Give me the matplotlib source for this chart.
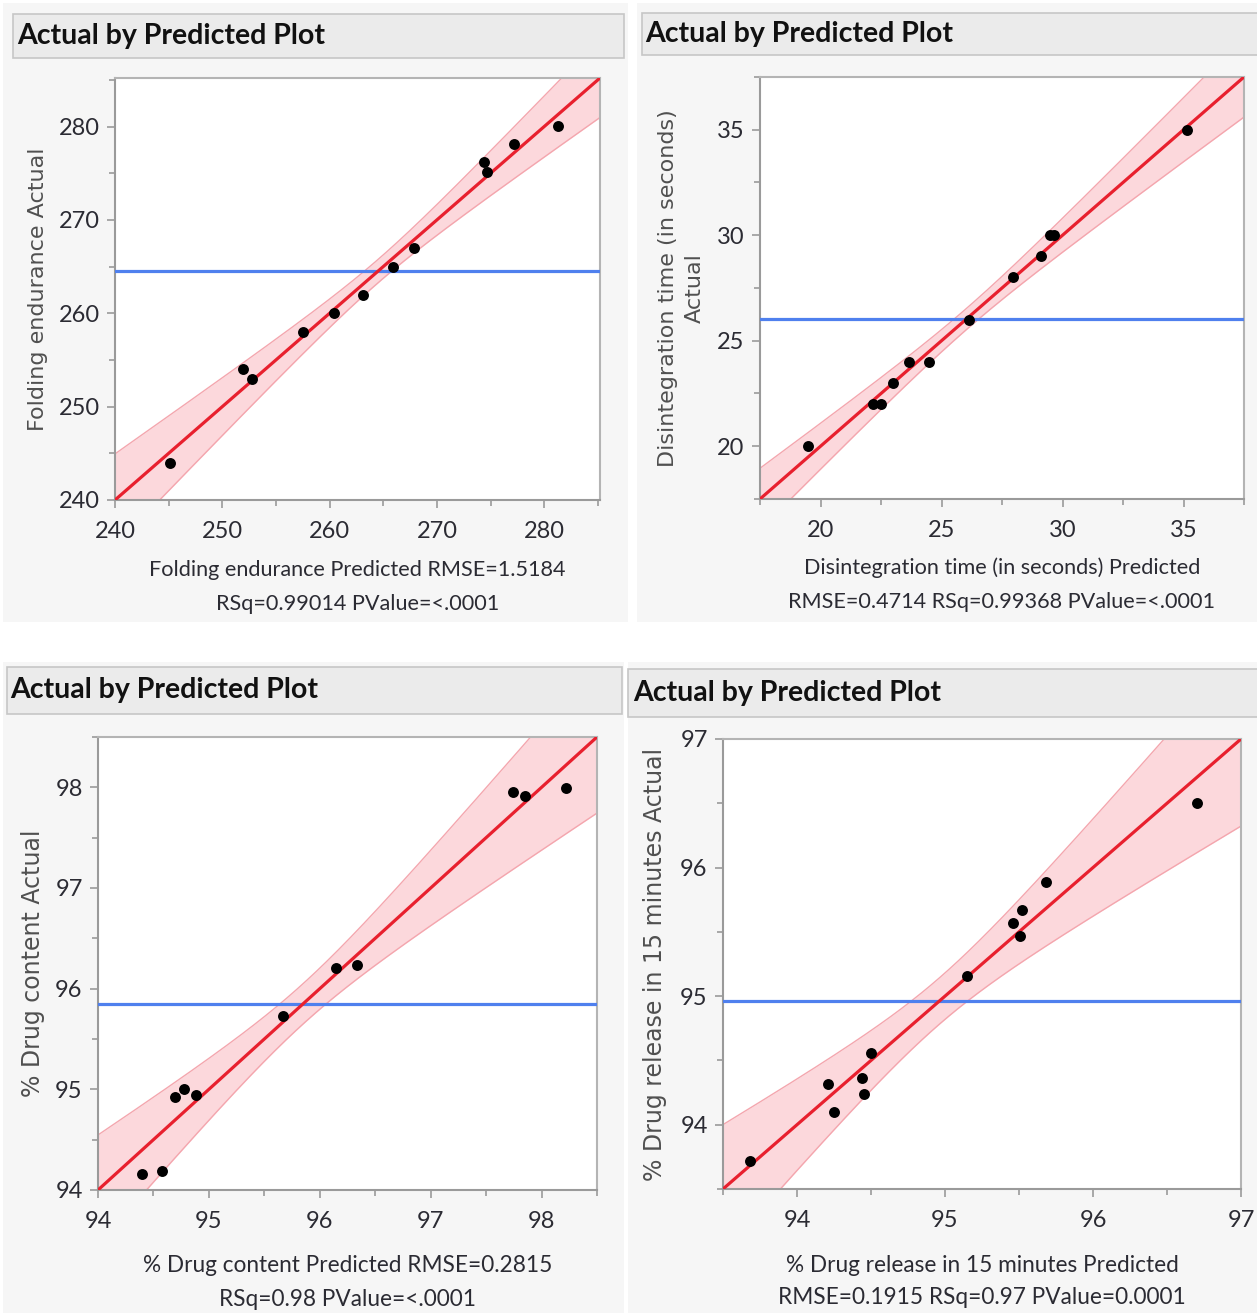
import numpy as np
import matplotlib
matplotlib.use("Agg")
import matplotlib.pyplot as plt
from matplotlib.patches import Rectangle
from matplotlib.ticker import MultipleLocator

W, H = 1257, 1313

title_text = "Actual by Predicted Plot"

# ---- Panel 1: Folding endurance ----
fe_pred = [245.1, 251.9, 252.8, 257.5, 260.4, 263.1, 265.9, 267.9, 274.4, 274.7, 277.2, 281.3]
fe_act = [244.0, 254.0, 253.0, 258.0, 260.0, 262.0, 265.0, 267.0, 276.2, 275.1, 278.1, 280.1]
fe_mean = 264.5
fe_xlabel = ["Folding endurance Predicted RMSE=1.5184", "RSq=0.99014 PValue=<.0001"]
fe_ylabel = ["Folding endurance Actual"]

# ---- Panel 2: Disintegration time ----
dt_pred = [19.5, 22.15, 22.5, 23.0, 23.65, 24.47, 26.15, 27.97, 29.1, 29.5, 29.65, 35.15]
dt_act = [20.0, 22.0, 22.0, 23.0, 24.0, 24.0, 26.0, 28.0, 29.0, 30.0, 30.0, 35.0]
dt_mean = 26.05
dt_xlabel = ["Disintegration time (in seconds) Predicted", "RMSE=0.4714 RSq=0.99368 PValue=<.0001"]
dt_ylabel = ["Disintegration time (in seconds)", "Actual"]

# ---- Panel 3: % Drug content ----
dc_pred = [94.4, 94.58, 94.69, 94.78, 94.88, 95.67, 96.15, 96.34, 97.74, 97.85, 98.22]
dc_act = [94.16, 94.19, 94.92, 95.0, 94.94, 95.73, 96.21, 96.24, 97.95, 97.91, 97.99]
dc_mean = 95.85
dc_xlabel = ["% Drug content Predicted RMSE=0.2815", "RSq=0.98 PValue=<.0001"]
dc_ylabel = ["% Drug content Actual"]

# ---- Panel 4: % Drug release in 15 minutes ----
dr_pred = [93.68, 94.21, 94.25, 94.44, 94.45, 94.5, 95.15, 95.46, 95.51, 95.52, 95.68, 96.7]
dr_act = [93.72, 94.32, 94.1, 94.36, 94.24, 94.56, 95.16, 95.57, 95.47, 95.67, 95.89, 96.5]
dr_mean = 94.96
dr_xlabel = ["% Drug release in 15 minutes Predicted", "RMSE=0.1915 RSq=0.97 PValue=0.0001"]
dr_ylabel = ["% Drug release in 15 minutes Actual"]

# confidence band (half width at mean, spread per unit distance)
band_half_center = [1.25, 0.5, 0.2, 0.18]
band_spread = [0.195, 0.16, 0.275, 0.32]

# axis limits and ticks
xlims = [(240, 285.2), (17.5, 37.5), (94, 98.5), (93.5, 97)]
ylims = [(240, 285.2), (17.5, 37.5), (94, 98.5), (93.5, 97)]
x_ticks = [[240, 250, 260, 270, 280], [20, 25, 30, 35], [94, 95, 96, 97, 98], [94, 95, 96, 97]]
y_ticks = [[240, 250, 260, 270, 280], [20, 25, 30, 35], [94, 95, 96, 97, 98], [94, 95, 96, 97]]
minor_steps = [5, 2.5, 0.5, 0.5]

# ---- layout (pixels) ----
panels = [
    dict(pred=fe_pred, act=fe_act, mean=fe_mean, xl=fe_xlabel, yl=fe_ylabel,
         bg=(3, 3, 628, 622), bar=(13, 14, 624, 58), title=(17, 36),
         ax=(115, 78, 600, 500), xlab_y=(570, 604), ylab_x=(38,), ysize=16, xsize=15.6),
    dict(pred=dt_pred, act=dt_act, mean=dt_mean, xl=dt_xlabel, yl=dt_ylabel,
         bg=(637, 3, 1257, 622), bar=(642, 13, 1262, 55), title=(645, 34),
         ax=(760, 77, 1244, 499), xlab_y=(568, 602), ylab_x=(668, 695), ysize=16, xsize=15.6),
    dict(pred=dc_pred, act=dc_act, mean=dc_mean, xl=dc_xlabel, yl=dc_ylabel,
         bg=(3, 662, 624, 1313), bar=(7, 667, 622, 714), title=(10, 690),
         ax=(98, 737, 597, 1190), xlab_y=(1265, 1300), ylab_x=(33,), ysize=17, xsize=16.3),
    dict(pred=dr_pred, act=dr_act, mean=dr_mean, xl=dr_xlabel, yl=dr_ylabel,
         bg=(628, 662, 1257, 1313), bar=(628, 669, 1262, 717), title=(633, 693),
         ax=(723, 739, 1241, 1189), xlab_y=(1265, 1298), ylab_x=(655,), ysize=17, xsize=16.3),
]

fig = plt.figure(figsize=(W / 100, H / 100), dpi=100)
fig.patch.set_facecolor("white")

def fx(x):
    return x / W

def fy(y):
    return 1 - y / H

TEXT = "#2b2b33"
LABEL = "#505050"
tick_font = "Lato"

for i, p in enumerate(panels):
    x0, y0, x1, y1 = p["bg"]
    fig.patches.append(Rectangle((fx(x0), fy(y1)), (x1 - x0) / W, (y1 - y0) / H,
                                 transform=fig.transFigure, facecolor="#f6f6f6",
                                 edgecolor="none", zorder=-3))
    x0, y0, x1, y1 = p["bar"]
    fig.patches.append(Rectangle((fx(x0), fy(y1)), (x1 - x0) / W, (y1 - y0) / H,
                                 transform=fig.transFigure, facecolor="#ebebeb",
                                 edgecolor="#c6c6c6", linewidth=1.2, zorder=-2))
    tx, ty = p["title"]
    fig.text(fx(tx), fy(ty), title_text, family="Lato", weight="bold",
             fontsize=20.5, color="#111111", ha="left", va="center")

    ax0, ay0, ax1, ay1 = p["ax"]
    ax = fig.add_axes([fx(ax0), fy(ay1), (ax1 - ax0) / W, (ay1 - ay0) / H])
    ax.set_zorder(2)
    ax.set_facecolor("white")
    ax.set_xlim(*xlims[i])
    ax.set_ylim(*ylims[i])
    ax.set_xticks(x_ticks[i])
    ax.set_yticks(y_ticks[i])
    ax.xaxis.set_minor_locator(MultipleLocator(minor_steps[i]))
    ax.yaxis.set_minor_locator(MultipleLocator(minor_steps[i]))
    ax.tick_params(which="major", length=6, width=1.2, color="#9a9a9a",
                   labelsize=17, labelcolor=TEXT)
    ax.tick_params(axis="x", which="major", pad=9)
    ax.tick_params(axis="y", which="major", pad=5)
    ax.tick_params(which="minor", length=4, width=1.2, color="#9a9a9a")
    for lab in ax.get_xticklabels() + ax.get_yticklabels():
        lab.set_family(tick_font)
    for side in ["left", "bottom"]:
        ax.spines[side].set_color("#9a9a9a")
        ax.spines[side].set_linewidth(1.5)
    for side in ["top", "right"]:
        ax.spines[side].set_color("#b4b4b4")
        ax.spines[side].set_linewidth(1.5)

    xs = np.linspace(xlims[i][0], xlims[i][1], 400)
    m = p["mean"]
    hw = np.sqrt(band_half_center[i] ** 2 + (band_spread[i] * (xs - m)) ** 2)
    ax.fill_between(xs, xs - hw, xs + hw, color="#fcd8dc", linewidth=0, zorder=1)
    ax.plot(xs, xs + hw, color="#f4a6ae", linewidth=1.0, zorder=2)
    ax.plot(xs, xs - hw, color="#f4a6ae", linewidth=1.0, zorder=2)
    ax.axhline(m, color="#4f80ee", linewidth=2.3, zorder=3)
    ax.plot(xs, xs, color="#e8202e", linewidth=2.3, zorder=4)
    ax.scatter(p["pred"], p["act"], s=62, color="black", zorder=5, linewidths=0)

    cx = (ax0 + ax1) / 2
    for line, ly in zip(p["xl"], p["xlab_y"]):
        fig.text(fx(cx), fy(ly), line, family="Lato", fontsize=p["xsize"], color=TEXT,
                 ha="center", va="center")
    cy = (ay0 + ay1) / 2
    for line, lx in zip(p["yl"], p["ylab_x"]):
        fig.text(fx(lx), fy(cy), line, family="DejaVu Sans", fontsize=p["ysize"],
                 color=LABEL, ha="center", va="center", rotation=90)

fig.savefig("out.png", dpi=100, facecolor="white")
